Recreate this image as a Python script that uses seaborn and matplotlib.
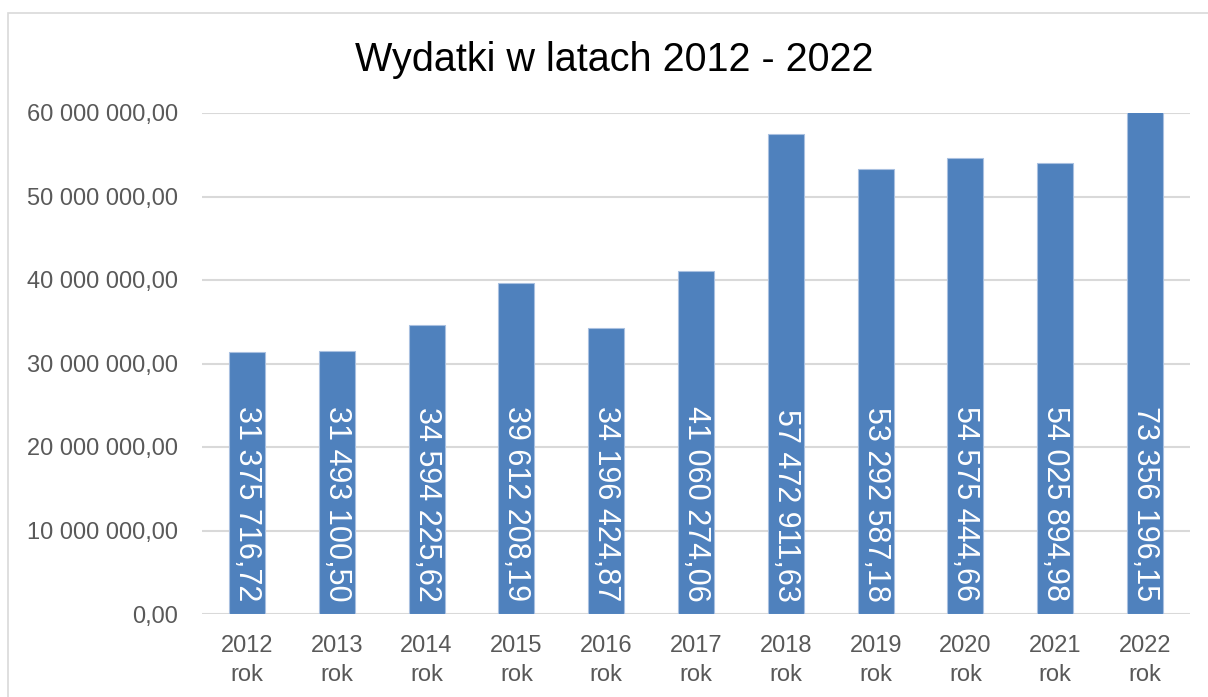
import matplotlib
matplotlib.use("Agg")
import matplotlib.pyplot as plt
import matplotlib.patches as mpatches
import seaborn as sns
import pandas as pd

years = ["2012", "2013", "2014", "2015", "2016", "2017", "2018", "2019", "2020", "2021", "2022"]
values = [31375716.72, 31493100.50, 34594225.62, 39612208.19, 34196424.87, 41060274.06,
          57472911.63, 53292587.18, 54575444.66, 54025894.98, 73356196.15]
title = "Wydatki w latach 2012 - 2022"
y_ticks = [0, 10000000, 20000000, 30000000, 40000000, 50000000, 60000000]


def pl_fmt(v):
    return f"{v:,.2f}".replace(",", " ").replace(".", ",")


sns.set_theme(style="white")
plt.rcParams["font.family"] = ["Liberation Sans", "DejaVu Sans"]

W, H = 1208, 697
fig = plt.figure(figsize=(W / 100, H / 100), dpi=100)
ax = fig.add_axes([202 / W, 1 - 614 / H, (1190 - 202) / W, (614 - 113) / H])

df = pd.DataFrame({"rok": [f"{y}\nrok" for y in years], "wartosc": values})
sns.barplot(data=df, x="rok", y="wartosc", color="#4f81bd", width=0.4,
            saturation=1, edgecolor="#a9c0e0", linewidth=0.8, ax=ax)

ax.set_ylim(0, 60000000)
ax.set_yticks(y_ticks)
ax.set_yticklabels([pl_fmt(v) for v in y_ticks])
ax.set_xlabel("")
ax.set_ylabel("")
for s in ax.spines.values():
    s.set_visible(False)
ax.set_axisbelow(True)
ax.yaxis.grid(True, color="#d9d9d9", linewidth=1.5)
ax.xaxis.grid(False)
ax.tick_params(axis="y", length=0, pad=17, labelsize=17, labelcolor="#595959")
ax.tick_params(axis="x", length=0, pad=15, labelsize=17, labelcolor="#595959")
for t in ax.get_xticklabels():
    t.set_linespacing(1.4)

for i, v in enumerate(values):
    ax.annotate(pl_fmt(v), xy=(i, 0), xytext=(0, 9), textcoords="offset points",
                rotation=270, ha="center", va="bottom", color="white", fontsize=22)

fig.text(614 / W, 1 - 60 / H, title, ha="center", va="center", fontsize=28.5, color="#000000")

fig.patches.append(mpatches.Rectangle((8 / W, -0.1), 1.2, 1.1 - 13 / H, transform=fig.transFigure,
                                      facecolor="none", edgecolor="#d9d9d9", linewidth=1.2))

fig.savefig("out.png", dpi=100)
